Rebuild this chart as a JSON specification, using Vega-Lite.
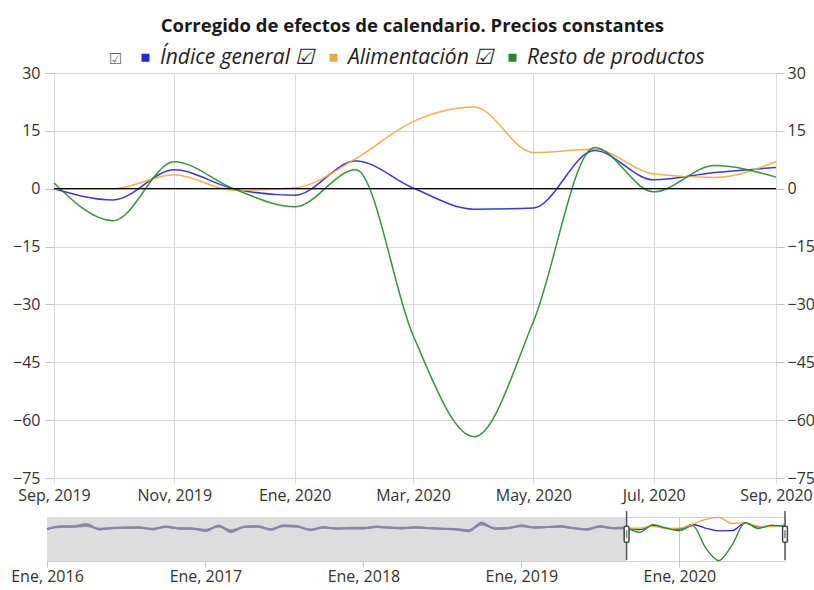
{
  "$schema": "https://vega.github.io/schema/vega-lite/v6.json",
  "background": "white",
  "padding": {"left": 10, "right": 0, "top": 16, "bottom": 0},
  "title": {"text": "Corregido de efectos de calendario. Precios constantes", "font": "Open Sans", "fontSize": 18.5, "fontWeight": "bold", "color": "#1a1a1a", "anchor": "middle", "offset": 12},
  "config": {
    "font": "Open Sans",
    "view": {"stroke": null},
    "axis": {"labelFont": "Open Sans", "labelFontSize": 16, "labelColor": "#333333", "gridColor": "#d9d9d9", "tickColor": "#c4c4c4", "domain": false, "title": null}
  },
  "datasets": {
    "reciente": [
      {"fecha": "2019-09-01", "serie": "Índice general", "valor": 0},
      {"fecha": "2019-10-01", "serie": "Índice general", "valor": -2.9},
      {"fecha": "2019-11-01", "serie": "Índice general", "valor": 4.9},
      {"fecha": "2019-12-01", "serie": "Índice general", "valor": 0},
      {"fecha": "2020-01-01", "serie": "Índice general", "valor": -1.7},
      {"fecha": "2020-02-01", "serie": "Índice general", "valor": 7.2},
      {"fecha": "2020-03-01", "serie": "Índice general", "valor": 0.2},
      {"fecha": "2020-04-01", "serie": "Índice general", "valor": -5.3},
      {"fecha": "2020-05-01", "serie": "Índice general", "valor": -5},
      {"fecha": "2020-06-01", "serie": "Índice general", "valor": 9.9},
      {"fecha": "2020-07-01", "serie": "Índice general", "valor": 2.3},
      {"fecha": "2020-08-01", "serie": "Índice general", "valor": 4.2},
      {"fecha": "2020-09-01", "serie": "Índice general", "valor": 5.5},
      {"fecha": "2019-09-01", "serie": "Alimentación", "valor": 0},
      {"fecha": "2019-10-01", "serie": "Alimentación", "valor": 0},
      {"fecha": "2019-11-01", "serie": "Alimentación", "valor": 3.6},
      {"fecha": "2019-12-01", "serie": "Alimentación", "valor": -0.4},
      {"fecha": "2020-01-01", "serie": "Alimentación", "valor": 0.2},
      {"fecha": "2020-02-01", "serie": "Alimentación", "valor": 7.8},
      {"fecha": "2020-03-01", "serie": "Alimentación", "valor": 17.4},
      {"fecha": "2020-04-01", "serie": "Alimentación", "valor": 21.2},
      {"fecha": "2020-05-01", "serie": "Alimentación", "valor": 9.4},
      {"fecha": "2020-06-01", "serie": "Alimentación", "valor": 10.2},
      {"fecha": "2020-07-01", "serie": "Alimentación", "valor": 3.8},
      {"fecha": "2020-08-01", "serie": "Alimentación", "valor": 2.9},
      {"fecha": "2020-09-01", "serie": "Alimentación", "valor": 7},
      {"fecha": "2019-09-01", "serie": "Resto de productos", "valor": 1.5},
      {"fecha": "2019-10-01", "serie": "Resto de productos", "valor": -8.3},
      {"fecha": "2019-11-01", "serie": "Resto de productos", "valor": 7},
      {"fecha": "2019-12-01", "serie": "Resto de productos", "valor": 0},
      {"fecha": "2020-01-01", "serie": "Resto de productos", "valor": -4.7},
      {"fecha": "2020-02-01", "serie": "Resto de productos", "valor": 4.9},
      {"fecha": "2020-03-01", "serie": "Resto de productos", "valor": -38},
      {"fecha": "2020-04-01", "serie": "Resto de productos", "valor": -64.3},
      {"fecha": "2020-05-01", "serie": "Resto de productos", "valor": -34.5},
      {"fecha": "2020-06-01", "serie": "Resto de productos", "valor": 10.7},
      {"fecha": "2020-07-01", "serie": "Resto de productos", "valor": -0.8},
      {"fecha": "2020-08-01", "serie": "Resto de productos", "valor": 6},
      {"fecha": "2020-09-01", "serie": "Resto de productos", "valor": 3}
    ],
    "historico": [
      {"fecha": "2016-01-01", "serie": "Índice general", "valor": -2},
      {"fecha": "2016-02-01", "serie": "Índice general", "valor": 3},
      {"fecha": "2016-03-01", "serie": "Índice general", "valor": 3},
      {"fecha": "2016-04-01", "serie": "Índice general", "valor": 6.5},
      {"fecha": "2016-05-01", "serie": "Índice general", "valor": -2},
      {"fecha": "2016-06-01", "serie": "Índice general", "valor": 0},
      {"fecha": "2016-07-01", "serie": "Índice general", "valor": 0.7},
      {"fecha": "2016-08-01", "serie": "Índice general", "valor": 1},
      {"fecha": "2016-09-01", "serie": "Índice general", "valor": -2},
      {"fecha": "2016-10-01", "serie": "Índice general", "valor": 2.7},
      {"fecha": "2016-11-01", "serie": "Índice general", "valor": -0.5},
      {"fecha": "2016-12-01", "serie": "Índice general", "valor": -0.7},
      {"fecha": "2017-01-01", "serie": "Índice general", "valor": -5},
      {"fecha": "2017-02-01", "serie": "Índice general", "valor": 4},
      {"fecha": "2017-03-01", "serie": "Índice general", "valor": -6.5},
      {"fecha": "2017-04-01", "serie": "Índice general", "valor": 2.7},
      {"fecha": "2017-05-01", "serie": "Índice general", "valor": 3.3},
      {"fecha": "2017-06-01", "serie": "Índice general", "valor": -2.7},
      {"fecha": "2017-07-01", "serie": "Índice general", "valor": 4.7},
      {"fecha": "2017-08-01", "serie": "Índice general", "valor": 3.3},
      {"fecha": "2017-09-01", "serie": "Índice general", "valor": -3.3},
      {"fecha": "2017-10-01", "serie": "Índice general", "valor": 1.3},
      {"fecha": "2017-11-01", "serie": "Índice general", "valor": -0.7},
      {"fecha": "2017-12-01", "serie": "Índice general", "valor": 0},
      {"fecha": "2018-01-01", "serie": "Índice general", "valor": 0},
      {"fecha": "2018-02-01", "serie": "Índice general", "valor": 2.7},
      {"fecha": "2018-03-01", "serie": "Índice general", "valor": 1},
      {"fecha": "2018-04-01", "serie": "Índice general", "valor": 0},
      {"fecha": "2018-05-01", "serie": "Índice general", "valor": 1.3},
      {"fecha": "2018-06-01", "serie": "Índice general", "valor": 0},
      {"fecha": "2018-07-01", "serie": "Índice general", "valor": -1.3},
      {"fecha": "2018-08-01", "serie": "Índice general", "valor": -2},
      {"fecha": "2018-09-01", "serie": "Índice general", "valor": -5.3},
      {"fecha": "2018-10-01", "serie": "Índice general", "valor": 9.3},
      {"fecha": "2018-11-01", "serie": "Índice general", "valor": -0.7},
      {"fecha": "2018-12-01", "serie": "Índice general", "valor": 0},
      {"fecha": "2019-01-01", "serie": "Índice general", "valor": 4.7},
      {"fecha": "2019-02-01", "serie": "Índice general", "valor": 1.3},
      {"fecha": "2019-03-01", "serie": "Índice general", "valor": 2},
      {"fecha": "2019-04-01", "serie": "Índice general", "valor": 3.3},
      {"fecha": "2019-05-01", "serie": "Índice general", "valor": 0},
      {"fecha": "2019-06-01", "serie": "Índice general", "valor": -2.7},
      {"fecha": "2019-07-01", "serie": "Índice general", "valor": 3.3},
      {"fecha": "2019-08-01", "serie": "Índice general", "valor": 0},
      {"fecha": "2019-09-01", "serie": "Índice general", "valor": 0},
      {"fecha": "2016-01-01", "serie": "Alimentación", "valor": -1},
      {"fecha": "2016-02-01", "serie": "Alimentación", "valor": 2},
      {"fecha": "2016-03-01", "serie": "Alimentación", "valor": 2.5},
      {"fecha": "2016-04-01", "serie": "Alimentación", "valor": 4},
      {"fecha": "2016-05-01", "serie": "Alimentación", "valor": -1},
      {"fecha": "2016-06-01", "serie": "Alimentación", "valor": 0.5},
      {"fecha": "2016-07-01", "serie": "Alimentación", "valor": 1},
      {"fecha": "2016-08-01", "serie": "Alimentación", "valor": 0.5},
      {"fecha": "2016-09-01", "serie": "Alimentación", "valor": -1},
      {"fecha": "2016-10-01", "serie": "Alimentación", "valor": 2},
      {"fecha": "2016-11-01", "serie": "Alimentación", "valor": 0},
      {"fecha": "2016-12-01", "serie": "Alimentación", "valor": -0.5},
      {"fecha": "2017-01-01", "serie": "Alimentación", "valor": -3},
      {"fecha": "2017-02-01", "serie": "Alimentación", "valor": 3},
      {"fecha": "2017-03-01", "serie": "Alimentación", "valor": -4},
      {"fecha": "2017-04-01", "serie": "Alimentación", "valor": 2},
      {"fecha": "2017-05-01", "serie": "Alimentación", "valor": 2.5},
      {"fecha": "2017-06-01", "serie": "Alimentación", "valor": -2},
      {"fecha": "2017-07-01", "serie": "Alimentación", "valor": 3.5},
      {"fecha": "2017-08-01", "serie": "Alimentación", "valor": 2.5},
      {"fecha": "2017-09-01", "serie": "Alimentación", "valor": -2.5},
      {"fecha": "2017-10-01", "serie": "Alimentación", "valor": 1},
      {"fecha": "2017-11-01", "serie": "Alimentación", "valor": -0.5},
      {"fecha": "2017-12-01", "serie": "Alimentación", "valor": 0.5},
      {"fecha": "2018-01-01", "serie": "Alimentación", "valor": 0.5},
      {"fecha": "2018-02-01", "serie": "Alimentación", "valor": 2},
      {"fecha": "2018-03-01", "serie": "Alimentación", "valor": 1},
      {"fecha": "2018-04-01", "serie": "Alimentación", "valor": 0.5},
      {"fecha": "2018-05-01", "serie": "Alimentación", "valor": 1},
      {"fecha": "2018-06-01", "serie": "Alimentación", "valor": 0},
      {"fecha": "2018-07-01", "serie": "Alimentación", "valor": -1},
      {"fecha": "2018-08-01", "serie": "Alimentación", "valor": -1.5},
      {"fecha": "2018-09-01", "serie": "Alimentación", "valor": -4},
      {"fecha": "2018-10-01", "serie": "Alimentación", "valor": 7},
      {"fecha": "2018-11-01", "serie": "Alimentación", "valor": 0},
      {"fecha": "2018-12-01", "serie": "Alimentación", "valor": 0.5},
      {"fecha": "2019-01-01", "serie": "Alimentación", "valor": 3.5},
      {"fecha": "2019-02-01", "serie": "Alimentación", "valor": 1},
      {"fecha": "2019-03-01", "serie": "Alimentación", "valor": 2},
      {"fecha": "2019-04-01", "serie": "Alimentación", "valor": 2.5},
      {"fecha": "2019-05-01", "serie": "Alimentación", "valor": 0.5},
      {"fecha": "2019-06-01", "serie": "Alimentación", "valor": -2},
      {"fecha": "2019-07-01", "serie": "Alimentación", "valor": 2.5},
      {"fecha": "2019-08-01", "serie": "Alimentación", "valor": 0},
      {"fecha": "2019-09-01", "serie": "Alimentación", "valor": 0},
      {"fecha": "2016-01-01", "serie": "Resto de productos", "valor": -2.5},
      {"fecha": "2016-02-01", "serie": "Resto de productos", "valor": 3.5},
      {"fecha": "2016-03-01", "serie": "Resto de productos", "valor": 3.5},
      {"fecha": "2016-04-01", "serie": "Resto de productos", "valor": 8},
      {"fecha": "2016-05-01", "serie": "Resto de productos", "valor": -2.5},
      {"fecha": "2016-06-01", "serie": "Resto de productos", "valor": 0},
      {"fecha": "2016-07-01", "serie": "Resto de productos", "valor": 0.5},
      {"fecha": "2016-08-01", "serie": "Resto de productos", "valor": 1.5},
      {"fecha": "2016-09-01", "serie": "Resto de productos", "valor": -2.5},
      {"fecha": "2016-10-01", "serie": "Resto de productos", "valor": 3},
      {"fecha": "2016-11-01", "serie": "Resto de productos", "valor": -1},
      {"fecha": "2016-12-01", "serie": "Resto de productos", "valor": -1},
      {"fecha": "2017-01-01", "serie": "Resto de productos", "valor": -6},
      {"fecha": "2017-02-01", "serie": "Resto de productos", "valor": 5},
      {"fecha": "2017-03-01", "serie": "Resto de productos", "valor": -8},
      {"fecha": "2017-04-01", "serie": "Resto de productos", "valor": 3},
      {"fecha": "2017-05-01", "serie": "Resto de productos", "valor": 4},
      {"fecha": "2017-06-01", "serie": "Resto de productos", "valor": -3},
      {"fecha": "2017-07-01", "serie": "Resto de productos", "valor": 5.5},
      {"fecha": "2017-08-01", "serie": "Resto de productos", "valor": 4},
      {"fecha": "2017-09-01", "serie": "Resto de productos", "valor": -4},
      {"fecha": "2017-10-01", "serie": "Resto de productos", "valor": 1.5},
      {"fecha": "2017-11-01", "serie": "Resto de productos", "valor": -1},
      {"fecha": "2017-12-01", "serie": "Resto de productos", "valor": -0.5},
      {"fecha": "2018-01-01", "serie": "Resto de productos", "valor": -0.5},
      {"fecha": "2018-02-01", "serie": "Resto de productos", "valor": 3},
      {"fecha": "2018-03-01", "serie": "Resto de productos", "valor": 1},
      {"fecha": "2018-04-01", "serie": "Resto de productos", "valor": -0.5},
      {"fecha": "2018-05-01", "serie": "Resto de productos", "valor": 1.5},
      {"fecha": "2018-06-01", "serie": "Resto de productos", "valor": 0},
      {"fecha": "2018-07-01", "serie": "Resto de productos", "valor": -1.5},
      {"fecha": "2018-08-01", "serie": "Resto de productos", "valor": -2.5},
      {"fecha": "2018-09-01", "serie": "Resto de productos", "valor": -6.5},
      {"fecha": "2018-10-01", "serie": "Resto de productos", "valor": 11},
      {"fecha": "2018-11-01", "serie": "Resto de productos", "valor": -1.5},
      {"fecha": "2018-12-01", "serie": "Resto de productos", "valor": -0.5},
      {"fecha": "2019-01-01", "serie": "Resto de productos", "valor": 5.5},
      {"fecha": "2019-02-01", "serie": "Resto de productos", "valor": 1.5},
      {"fecha": "2019-03-01", "serie": "Resto de productos", "valor": 2},
      {"fecha": "2019-04-01", "serie": "Resto de productos", "valor": 4},
      {"fecha": "2019-05-01", "serie": "Resto de productos", "valor": -0.5},
      {"fecha": "2019-06-01", "serie": "Resto de productos", "valor": -3},
      {"fecha": "2019-07-01", "serie": "Resto de productos", "valor": 4},
      {"fecha": "2019-08-01", "serie": "Resto de productos", "valor": 0},
      {"fecha": "2019-09-01", "serie": "Resto de productos", "valor": 1.5}
    ]
  },
  "vconcat": [
    {
      "width": 729,
      "height": 405,
      "layer": [
        {
          "data": {"name": "reciente"},
          "mark": {"type": "line", "interpolate": "monotone", "strokeWidth": 1.5, "opacity": 0.9},
          "encoding": {
            "x": {
              "field": "fecha", "type": "temporal",
              "scale": {"type": "utc", "range": [7, 729], "domain": [{"year": 2019, "month": 9, "date": 1, "utc": true}, {"year": 2020, "month": 9, "date": 1, "utc": true}]},
              "axis": {
                "values": [
                  {"year": 2019, "month": 9, "date": 1, "utc": true},
                  {"year": 2019, "month": 11, "date": 1, "utc": true},
                  {"year": 2020, "month": 1, "date": 1, "utc": true},
                  {"year": 2020, "month": 3, "date": 1, "utc": true},
                  {"year": 2020, "month": 5, "date": 1, "utc": true},
                  {"year": 2020, "month": 7, "date": 1, "utc": true},
                  {"year": 2020, "month": 9, "date": 1, "utc": true}
                ],
                "labelExpr": "['Ene','Feb','Mar','Abr','May','Jun','Jul','Ago','Sep','Oct','Nov','Dic'][utcmonth(datum.value)] + ', ' + utcyear(datum.value)",
                "grid": true, "tickSize": 5, "tickColor": "#d9d9d9", "labelPadding": 4, "labelFlush": false, "labelOverlap": false
              }
            },
            "y": {
              "field": "valor", "type": "quantitative",
              "scale": {"domain": [-75, 30], "nice": false, "zero": false},
              "axis": {"values": [-75, -60, -45, -30, -15, 0, 15, 30], "grid": true, "tickSize": 9, "labelPadding": 5, "offset": -7}
            },
            "color": {
              "field": "serie", "type": "nominal",
              "scale": {"domain": ["Índice general", "Alimentación", "Resto de productos"], "range": ["#2424e0", "#eeaa3c", "#22882a"]},
              "legend": {
                "orient": "none", "legendX": 62, "legendY": -26, "direction": "horizontal",
                "title": "☑", "titleOrient": "left", "titleFont": "DejaVu Sans", "titleFontSize": 15, "titleFontWeight": "normal", "titleColor": "#666666", "titlePadding": 12,
                "symbolType": "square", "symbolSize": 4, "symbolStrokeWidth": 6, "symbolOpacity": 1,
                "labelFont": "Open Sans", "labelFontSize": 21, "labelFontStyle": "italic", "labelColor": "#222222", "labelOffset": 4, "labelLimit": 400,
                "labelExpr": "datum.label == 'Resto de productos' ? datum.label : datum.label + '  ☑'",
                "columnPadding": 0
              }
            }
          }
        },
        {
          "data": {"values": [{"nivel": 0}]},
          "mark": {"type": "rule", "color": "#000000", "strokeWidth": 1.3},
          "encoding": {
            "x": {"datum": {"year": 2019, "month": 9, "date": 1, "utc": true}, "type": "temporal"},
            "x2": {"datum": {"year": 2020, "month": 9, "date": 1, "utc": true}},
            "y": {
              "field": "nivel", "type": "quantitative",
              "scale": {"domain": [-75, 30], "nice": false, "zero": false},
              "axis": {"orient": "right", "values": [-75, -60, -45, -30, -15, 0, 15, 30], "grid": false, "tickSize": 8, "labelPadding": 3}
            }
          }
        }
      ],
      "resolve": {"scale": {"y": "independent"}}
    },
    {
      "width": 738,
      "height": 44,
      "view": {"stroke": "#cfcfcf"},
      "layer": [
        {
          "data": {"values": [{"desde": "2016-01-01", "hasta": "2019-09-01"}]},
          "mark": {"type": "rect", "fill": "#dddddd"},
          "encoding": {
            "x": {"field": "desde", "type": "temporal"},
            "x2": {"field": "hasta"}
          }
        },
        {
          "data": {"name": "historico"},
          "mark": {"type": "line", "interpolate": "monotone", "strokeWidth": 2, "color": "#8686a8", "opacity": 0.85},
          "encoding": {
            "x": {
              "field": "fecha", "type": "temporal",
              "scale": {"type": "utc", "domain": [{"year": 2016, "month": 1, "date": 1, "utc": true}, {"year": 2020, "month": 9, "date": 1, "utc": true}]},
              "axis": {
                "values": [
                  {"year": 2016, "month": 1, "date": 1, "utc": true},
                  {"year": 2017, "month": 1, "date": 1, "utc": true},
                  {"year": 2018, "month": 1, "date": 1, "utc": true},
                  {"year": 2019, "month": 1, "date": 1, "utc": true},
                  {"year": 2020, "month": 1, "date": 1, "utc": true}
                ],
                "labelExpr": "['Ene','Feb','Mar','Abr','May','Jun','Jul','Ago','Sep','Oct','Nov','Dic'][utcmonth(datum.value)] + ', ' + utcyear(datum.value)",
                "grid": true, "gridColor": "#c8c8c8", "tickSize": 6, "tickColor": "#c8c8c8", "labelPadding": 1, "labelFlush": false, "labelOverlap": false
              }
            },
            "y": {"field": "valor", "type": "quantitative", "scale": {"domain": [-65, 22], "nice": false, "zero": false}, "axis": null},
            "detail": {"field": "serie"}
          }
        },
        {
          "data": {"name": "reciente"},
          "mark": {"type": "line", "interpolate": "monotone", "strokeWidth": 1.3},
          "encoding": {
            "x": {"field": "fecha", "type": "temporal"},
            "y": {"field": "valor", "type": "quantitative"},
            "color": {"field": "serie", "type": "nominal", "legend": null}
          }
        },
        {
          "data": {"values": [{"fecha": "2019-09-01"}, {"fecha": "2020-09-01"}]},
          "mark": {"type": "rule", "color": "#555555", "strokeWidth": 1.5},
          "encoding": {
            "x": {"field": "fecha", "type": "temporal"},
            "y": {"datum": 34},
            "y2": {"datum": -63}
          }
        },
        {
          "data": {"values": [{"fecha": "2019-09-01"}, {"fecha": "2020-09-01"}]},
          "mark": {"type": "point", "filled": true, "fill": "#ffffff", "stroke": "#444444", "strokeWidth": 1.5, "opacity": 1, "size": 260, "shape": "M -0.3 -0.8 Q -0.3 -1 -0.1 -1 L 0.1 -1 Q 0.3 -1 0.3 -0.8 L 0.3 0.8 Q 0.3 1 0.1 1 L -0.1 1 Q -0.3 1 -0.3 0.8 Z"},
          "encoding": {
            "x": {"field": "fecha", "type": "temporal"},
            "y": {"datum": -12}
          }
        },
        {
          "data": {"values": [{"fecha": "2019-09-01"}, {"fecha": "2020-09-01"}]},
          "mark": {"type": "point", "filled": true, "fill": "#888888", "strokeWidth": 0, "opacity": 1, "size": 260, "shape": "M -0.1 -0.5 L 0.1 -0.5 L 0.1 0.5 L -0.1 0.5 Z"},
          "encoding": {
            "x": {"field": "fecha", "type": "temporal"},
            "y": {"datum": -12}
          }
        }
      ]
    }
  ],
  "spacing": 6,
  "resolve": {"scale": {"x": "independent", "y": "independent", "color": "shared"}}
}
